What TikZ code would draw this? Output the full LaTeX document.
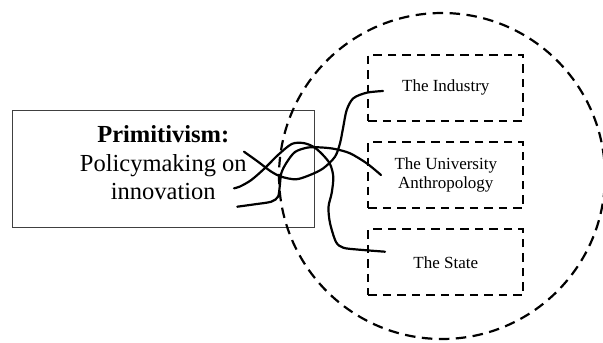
\documentclass[tikz,border=0pt]{standalone}
\usepackage{fontspec}
\setmainfont{Liberation Serif}
\usetikzlibrary{positioning}
\tikzset{
	frame/.style={draw=black!75, line width=0.9pt, minimum width=302pt, minimum height=117pt},
	sector/.style={draw, line width=2.3pt, dash pattern=on 8.5pt off 6pt, minimum width=155pt, minimum height=66pt, align=center, font=\fontsize{17}{19.5}\selectfont},
	ring/.style={line width=2.2pt, dash pattern=on 10.5pt off 6.5pt},
	link/.style={line width=2.2pt, smooth, line cap=round},
}
\begin{document}
\begin{tikzpicture}[x=1pt, y=-1pt, node distance=19pt]
	\useasboundingbox (0,0) rectangle (603,343);
	% Policy box
	\node[frame] (Pol) at (163.3,168.7) {};
	\node[align=center, font=\fontsize{24.5}{28.5}\selectfont] (PolText) at ([yshift=6pt]Pol.center) {\textbf{Primitivism:}\\Policymaking on\\innovation};
	% Sectors
	\node[sector] (Ind) at (445.8,87.7) {The Industry};
	\node[sector, below=of Ind] (Uni) {The University\\Anthropology};
	\node[sector, below=of Uni] (Sta) {The State};
	% Surrounding circle
	\draw[ring] (442,176) circle [radius=163pt];
	% Loose ends
	\coordinate (StaOut) at (234,188.3);
	\coordinate (UniOut) at (237.3,206.7);
	\coordinate (IndOut) at (244,151.7);
	\coordinate (StaIn) at (385,251.7);
	\coordinate (UniIn) at (381,175);
	\coordinate (IndIn) at (383,91);
	% Tangled links
	\draw[link] plot coordinates {(StaOut) (240,186.5) (251.3,180) (264.7,168.3) (278,155) (291.7,144) (303,143) (313,146.5) (322,154) (330,164) (333.3,177) (331.7,193) (328.5,207) (330,223) (336,242) (343.3,247.7) (357,249.5) (StaIn)};
	\draw[link] plot coordinates {(UniOut) (254.7,204.3) (271.3,201.7) (278,196.7) (279.7,186.7) (281.3,173.3) (286.3,163) (295,152) (308,147.5) (322,147.5) (335,149) (350,153.3) (366.7,163.3) (UniIn)};
	\draw[link] plot coordinates {(IndOut) (258,161.7) (271.3,171.7) (281.3,176.7) (296,179.3) (310,175) (323.3,168.3) (335,156.7) (340,143.3) (343.3,126.7) (346.7,110) (353.3,98.3) (366.7,92.7) (IndIn)};
\end{tikzpicture}
\end{document}
